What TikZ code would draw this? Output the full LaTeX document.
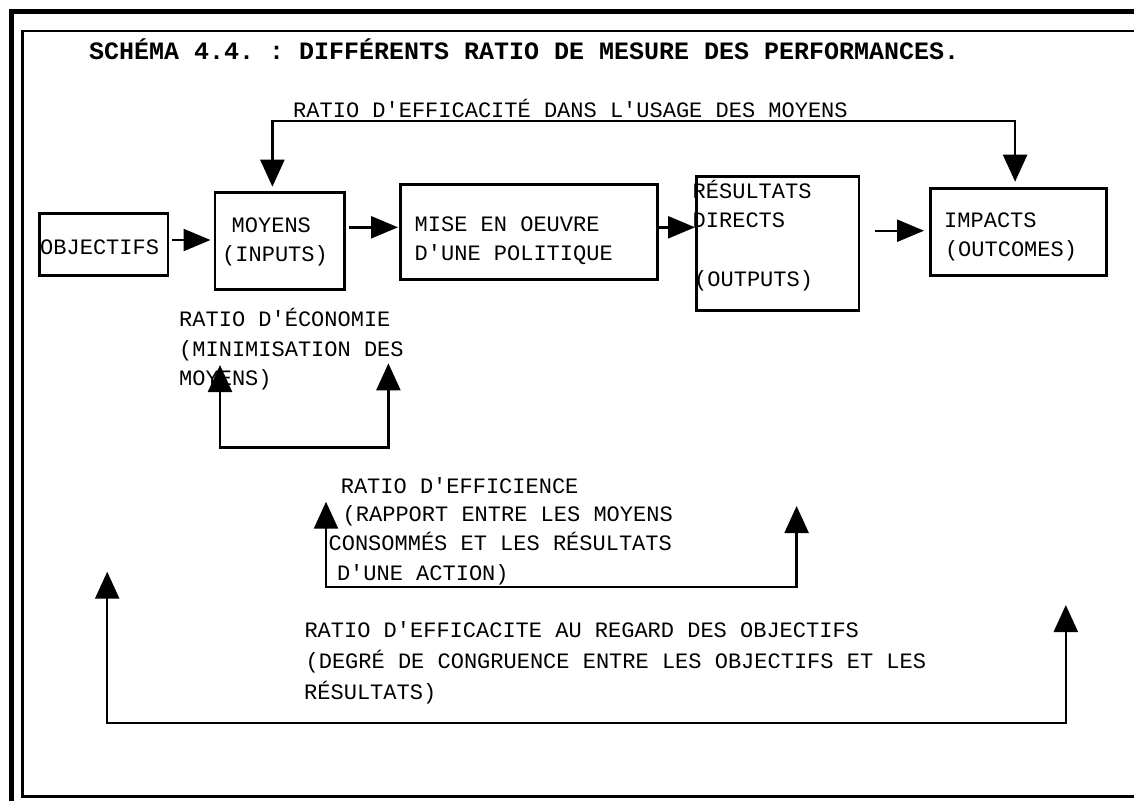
\documentclass[tikz,border=0pt]{standalone}
\usepackage{fontspec}
\setmonofont{Liberation Mono}
\usetikzlibrary{arrows.meta}
\begin{document}
\begin{tikzpicture}[x=1pt,y=-1pt,
  box/.style={draw,line width=2.8pt,rectangle,inner sep=0pt,anchor=north west},
  txt/.style={anchor=base west,inner sep=0pt,font=\ttfamily\fontsize{22}{29}\selectfont},
  ttl/.style={anchor=base west,inner sep=0pt,font=\ttfamily\bfseries\fontsize{25}{30}\selectfont},
  wire/.style={line width=2.4pt},
  vtip/.style={wire,{Triangle[length=27pt,width=24pt]}-{Triangle[length=27pt,width=24pt]}},
  htip/.style={wire,-{Triangle[length=27pt,width=22pt]}},
]
\useasboundingbox (0,0) rectangle (1134,801);

% double frame
\draw[line width=5.5pt] (1134,11.3) -- (11.3,11.3) -- (11.3,801);
\draw[line width=2.8pt] (1134,31) -- (22.8,31) -- (22.8,796.8) -- (1134,796.8);

% title
\node[ttl] (title) at (88.8,59) {SCHÉMA 4.4. : DIFFÉRENTS RATIO DE MESURE DES PERFORMANCES.};

% chain of boxes
\node[box,minimum width=128.2pt,minimum height=62.3pt] (obj)  at (38.3,211.7) {};
\node[box,minimum width=129.8pt,minimum height=97.6pt] (moy)  at (213.5,190.7) {};
\node[box,minimum width=257pt,minimum height=95.3pt]   (mise) at (399,183) {};
\node[box,minimum width=162.6pt,minimum height=134pt]  (res)  at (695,175) {};
\node[box,minimum width=176.2pt,minimum height=87.6pt] (imp)  at (928.8,186.7) {};

% box texts
\node[txt] (tobj)  at (40,254) {OBJECTIFS};
\node[txt] (tmoy1) at (231.5,232.7) {MOYENS};
\node[txt] (tmoy2) at (222,261.7) {(INPUTS)};
\node[txt] (tmis1) at (414.5,231.7) {MISE EN OEUVRE};
\node[txt] (tmis2) at (414.5,260) {D'UNE POLITIQUE};
\node[txt] (tres1) at (692.5,198.3) {RÉSULTATS};
\node[txt] (tres2) at (692.5,227.3) {DIRECTS};
\node[txt] (tres3) at (694,286) {(OUTPUTS)};
\node[txt] (timp1) at (944,227.3) {IMPACTS};
\node[txt] (timp2) at (944.8,256.7) {(OUTCOMES)};

% ratio labels
\node[txt] (usage) at (293,117) {RATIO D'EFFICACITÉ DANS L'USAGE DES MOYENS};

\node[txt] (eco1) at (179,326.7) {RATIO D'ÉCONOMIE};
\node[txt] (eco2) at (179,356) {(MINIMISATION DES};
\node[txt] (eco3) at (179,385) {MOYENS)};

\node[txt] (eff1) at (340.6,493.3) {RATIO D'EFFICIENCE};
\node[txt] (eff2) at (342.5,521.7) {(RAPPORT ENTRE LES MOYENS};
\node[txt] (eff3) at (328.4,550.7) {CONSOMMÉS ET LES RÉSULTATS};
\node[txt] (eff4) at (336.8,580) {D'UNE ACTION)};

\node[txt] (obj1) at (304.3,637.5) {RATIO D'EFFICACITE AU REGARD DES OBJECTIFS};
\node[txt] (obj2) at (305.4,668.5) {(DEGRÉ DE CONGRUENCE ENTRE LES OBJECTIFS ET LES};
\node[txt] (obj3) at (304,699) {RÉSULTATS)};

% forward arrows along the chain
\draw[htip,shorten <=3pt,shorten >=3pt] (obj.east |- 0,240) -- (moy.west |- 0,240);
\draw[htip,shorten <=2.7pt,shorten >=1pt] (moy.east |- 0,227.3) -- (mise.west |- 0,227.3);
\draw[htip] (mise.east |- 0,227.3) -- (res.west |- 0,227.3);
\draw[htip,shorten <=14.4pt,shorten >=4.8pt] (res.east |- 0,230.7) -- (imp.west |- 0,230.7);

% ratio brackets
\coordinate (usebar) at (640,121);
\draw[vtip] ([xshift=-7.4pt,yshift=4pt]moy.north) |- (usebar) -| ([xshift=-3.2pt,yshift=5pt]imp.north);

\coordinate (ecoL) at (220,365);
\coordinate (ecoB) at (300,447.5);
\coordinate (ecoR) at (388.4,363.3);
\draw[vtip] (ecoL) |- (ecoB) -| (ecoR);

\coordinate (effL) at (326,501.7);
\coordinate (effB) at (560,587);
\coordinate (effR) at (796.6,506);
\draw[vtip] (effL) |- (effB) -| (effR);

\coordinate (objL) at (107.2,571.7);
\coordinate (objB) at (600,723);
\coordinate (objR) at (1065.8,605);
\draw[vtip] (objL) |- (objB) -| (objR);
\end{tikzpicture}
\end{document}
